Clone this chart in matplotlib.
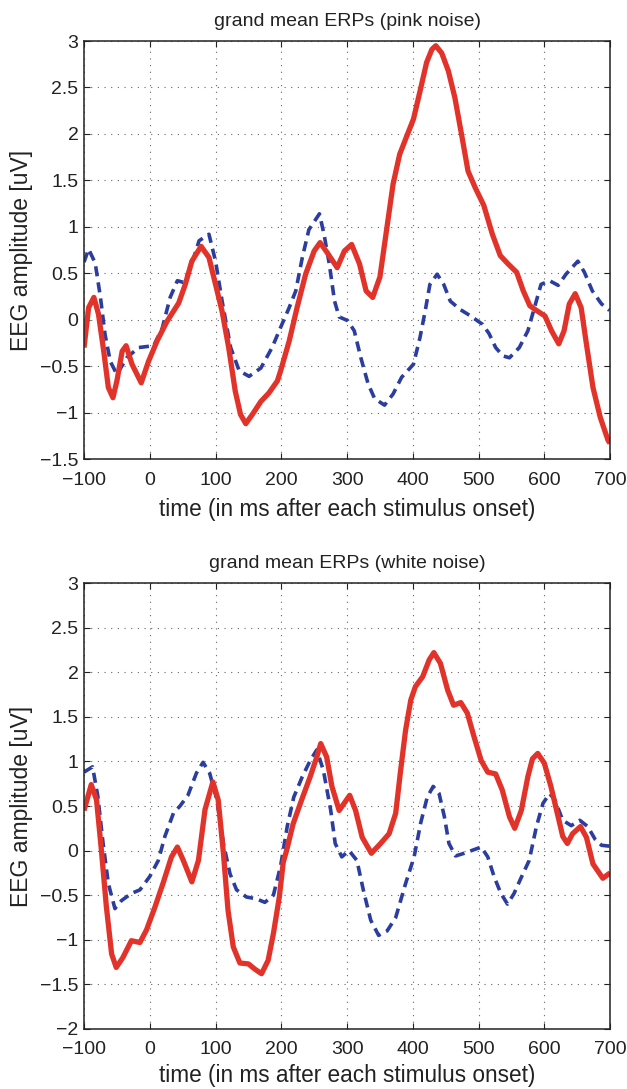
import matplotlib
matplotlib.use("Agg")
import matplotlib.pyplot as plt

plt.rcParams["font.family"] = ["Liberation Sans", "DejaVu Sans"]

# pink noise, red solid
pink_red_t = [-100, -93, -85, -78, -70, -63, -56, -50, -42, -36, -27, -13, -2, 11, 26, 44,
              54, 64, 78, 90, 100, 110, 120, 130, 138, 146, 156, 169, 181, 194, 199, 212,
              224, 237, 250, 259, 270, 285, 296, 307, 319, 329, 339, 350, 360, 370, 380,
              391, 401, 411, 421, 429, 435, 444, 454, 464, 475, 484, 495, 508, 521, 533,
              545, 558, 568, 578, 588, 601, 611, 622, 630, 638, 647, 656, 664, 674, 685,
              697, 700]
pink_red_v = [-0.30, 0.13, 0.24, 0.06, -0.34, -0.73, -0.84, -0.66, -0.34, -0.28, -0.48,
              -0.68, -0.45, -0.23, -0.02, 0.18, 0.38, 0.63, 0.79, 0.67, 0.38, 0.09, -0.30,
              -0.77, -1.02, -1.12, -1.02, -0.88, -0.79, -0.66, -0.55, -0.23, 0.13, 0.49,
              0.74, 0.83, 0.72, 0.56, 0.74, 0.81, 0.60, 0.31, 0.24, 0.46, 0.96, 1.46, 1.78,
              1.98, 2.16, 2.46, 2.77, 2.91, 2.95, 2.87, 2.68, 2.39, 1.96, 1.60, 1.42, 1.23,
              0.92, 0.69, 0.60, 0.51, 0.31, 0.15, 0.10, 0.04, -0.12, -0.26, -0.12, 0.17,
              0.28, 0.13, -0.26, -0.73, -1.05, -1.30, -1.33]

# pink noise, blue dashed
pink_blue_t = [-100, -93, -83, -75, -68, -60, -50, -35, -17, 6, 19, 31, 42, 52, 62, 75, 90,
               100, 110, 123, 136, 151, 169, 186, 201, 212, 222, 232, 242, 258, 265, 273,
               281, 288, 301, 311, 321, 332, 342, 357, 370, 383, 401, 411, 419, 426, 437,
               447, 457, 472, 488, 506, 516, 526, 537, 547, 562, 575, 585, 595, 608, 621,
               633, 651, 661, 673, 687, 699]
pink_blue_v = [0.62, 0.76, 0.61, 0.24, -0.16, -0.45, -0.59, -0.41, -0.30, -0.28, -0.09, 0.24,
               0.42, 0.40, 0.56, 0.85, 0.92, 0.63, 0.20, -0.30, -0.55, -0.61, -0.52, -0.30,
               -0.05, 0.13, 0.31, 0.67, 0.97, 1.14, 0.92, 0.60, 0.20, 0.03, -0.01, -0.12,
               -0.41, -0.69, -0.85, -0.92, -0.80, -0.62, -0.48, -0.19, 0.10, 0.38, 0.49,
               0.38, 0.20, 0.11, 0.04, -0.05, -0.15, -0.30, -0.39, -0.41, -0.30, -0.12, 0.13,
               0.38, 0.42, 0.37, 0.49, 0.63, 0.51, 0.31, 0.17, 0.10]

# white noise, red solid
white_red_t = [-100, -89, -81, -74, -66, -58, -51, -41, -28, -15, -5, 8, 20, 33, 42, 51, 64,
               74, 84, 96, 104, 112, 119, 127, 137, 150, 160, 170, 180, 188, 197, 203, 208,
               218, 231, 244, 254, 260, 269, 277, 288, 304, 313, 323, 337, 351, 364, 374,
               381, 389, 397, 404, 415, 425, 432, 442, 453, 462, 473, 483, 493, 504, 514,
               526, 536, 547, 555, 565, 575, 582, 590, 600, 610, 621, 628, 635, 643, 655,
               664, 674, 689, 700]
white_red_v = [0.45, 0.74, 0.57, 0.04, -0.63, -1.16, -1.31, -1.20, -1.01, -1.03, -0.89,
               -0.63, -0.37, -0.07, 0.04, -0.11, -0.35, -0.11, 0.46, 0.77, 0.57, -0.03, -0.67,
               -1.08, -1.26, -1.27, -1.33, -1.38, -1.23, -0.93, -0.52, -0.13, 0.00, 0.30,
               0.57, 0.83, 1.05, 1.20, 1.05, 0.72, 0.45, 0.62, 0.45, 0.15, -0.03, 0.08, 0.19,
               0.42, 0.87, 1.35, 1.69, 1.84, 1.95, 2.14, 2.22, 2.10, 1.80, 1.63, 1.66, 1.54,
               1.28, 1.01, 0.88, 0.86, 0.68, 0.38, 0.25, 0.45, 0.83, 1.03, 1.09, 0.98, 0.72,
               0.38, 0.16, 0.08, 0.19, 0.27, 0.15, -0.15, -0.31, -0.25]

# white noise, blue dashed
white_blue_t = [-100, -87, -79, -71, -63, -53, -43, -28, -15, 0, 13, 23, 36, 46, 58, 71, 81,
                91, 102, 112, 122, 132, 147, 162, 175, 188, 199, 209, 219, 232, 244, 254,
                264, 275, 282, 292, 303, 315, 325, 336, 348, 361, 374, 389, 402, 412, 422,
                431, 440, 448, 455, 465, 478, 504, 514, 524, 534, 544, 554, 565, 577, 588,
                598, 608, 616, 628, 641, 654, 666, 677, 687, 699]
white_blue_v = [0.88, 0.94, 0.61, 0.08, -0.37, -0.65, -0.56, -0.48, -0.44, -0.29, -0.11,
                0.16, 0.42, 0.50, 0.62, 0.87, 0.99, 0.87, 0.57, 0.08, -0.26, -0.44, -0.52,
                -0.54, -0.58, -0.50, -0.17, 0.27, 0.60, 0.83, 1.01, 1.13, 0.90, 0.46, 0.08,
                -0.07, 0.00, -0.11, -0.45, -0.78, -0.95, -0.90, -0.75, -0.37, -0.07, 0.31,
                0.60, 0.72, 0.64, 0.38, 0.08, -0.06, -0.03, 0.04, -0.07, -0.30, -0.48, -0.60,
                -0.48, -0.30, -0.11, 0.27, 0.53, 0.64, 0.57, 0.34, 0.28, 0.34, 0.27, 0.13,
                0.06, 0.05]

titles = ["grand mean ERPs (pink noise)", "grand mean ERPs (white noise)"]
xticks = [-100, 0, 100, 200, 300, 400, 500, 600, 700]
yticks_top = [-1.5, -1, -0.5, 0, 0.5, 1, 1.5, 2, 2.5, 3]
yticks_bottom = [-2, -1.5, -1, -0.5, 0, 0.5, 1, 1.5, 2, 2.5, 3]

RED = "#e2332a"
BLUE = "#2b3d9e"
INK = "#222222"

fig = plt.figure(figsize=(6.27, 10.89), dpi=100)
ax1 = fig.add_axes([0.1340, 0.5785, 0.8390, 0.3838])
ax2 = fig.add_axes([0.1340, 0.0551, 0.8390, 0.4095])

panels = [
    (ax1, pink_blue_t, pink_blue_v, pink_red_t, pink_red_v, yticks_top, (-1.5, 3), 7),
    (ax2, white_blue_t, white_blue_v, white_red_t, white_red_v, yticks_bottom, (-2, 3), 4),
]


def fmt(v):
    return f"{v:g}".replace("-", "\u2212")


for i, (ax, bt, bv, rt, rv, yt, ylim, xlpad) in enumerate(panels):
    ax.plot(bt, bv, color=BLUE, lw=2.6, linestyle=(0, (2.8, 1.7)),
            dash_capstyle="butt", dash_joinstyle="round")
    ax.plot(rt, rv, color=RED, lw=3.8, solid_joinstyle="round", solid_capstyle="butt")
    ax.set_xlim(-100, 700)
    ax.set_ylim(*ylim)
    ax.set_xticks(xticks)
    ax.set_yticks(yt)
    ax.set_yticklabels([fmt(v) for v in yt])
    ax.set_xticklabels([fmt(v) for v in xticks])
    ax.grid(True, color="#666666", linestyle=(0, (1, 5)), linewidth=0.8)
    ax.tick_params(direction="in", top=True, right=True, length=4, width=0.8,
                   labelsize=14, colors=INK)
    ax.tick_params(axis="x", pad=9)
    ax.tick_params(axis="y", pad=4)
    for s in ax.spines.values():
        s.set_linewidth(1.1)
        s.set_color(INK)
    ax.set_title(titles[i], fontsize=14, pad=11, color=INK)
    ax.set_xlabel("time (in ms after each stimulus onset)", fontsize=16.3, labelpad=xlpad,
                  color=INK)
    ax.set_ylabel("EEG amplitude [uV]", fontsize=16.5, labelpad=5, color=INK)

fig.savefig("out.png", dpi=100)
